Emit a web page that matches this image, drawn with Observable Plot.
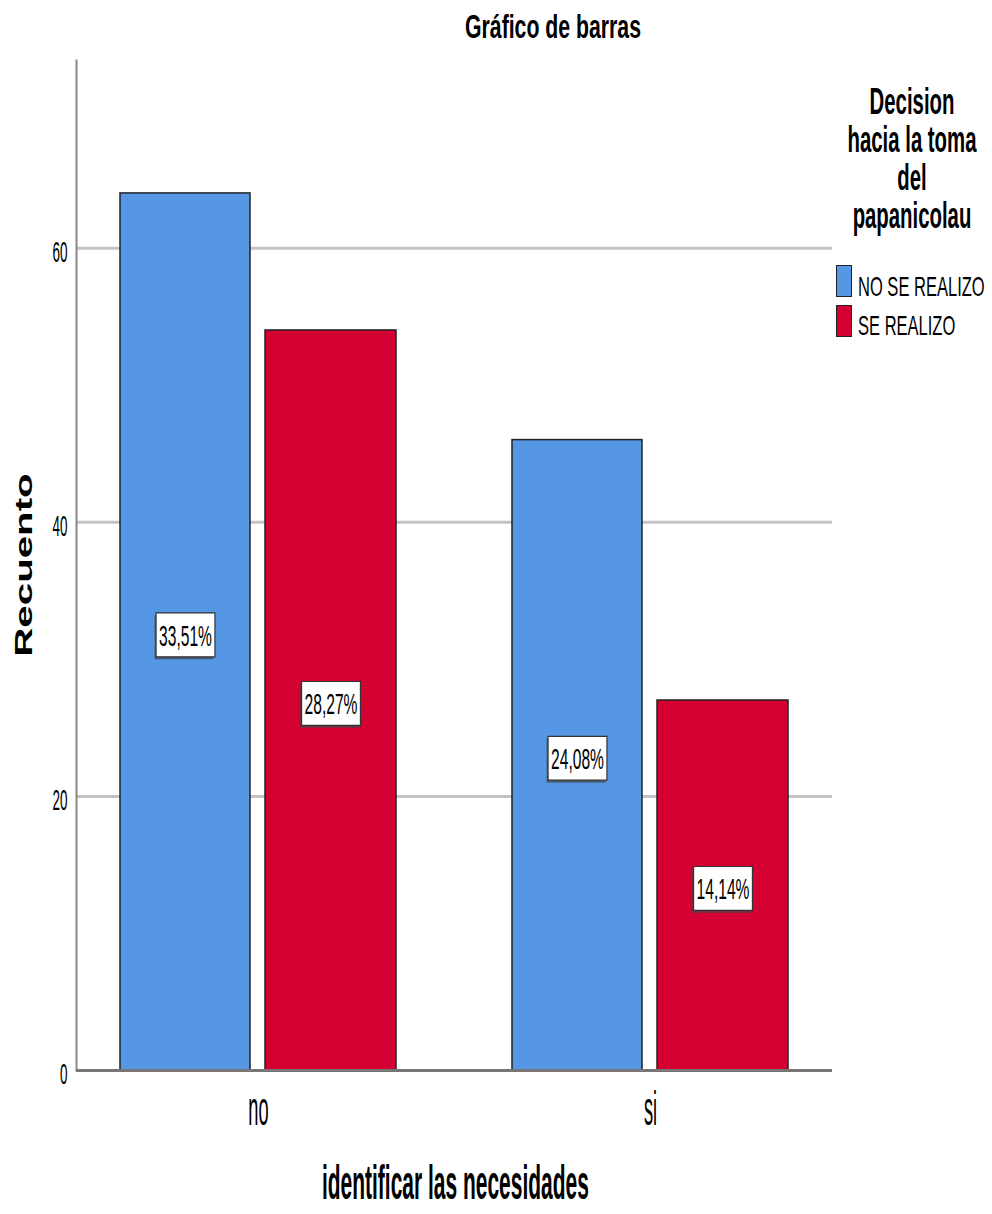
<!DOCTYPE html>
<html>
<head>
<meta charset="utf-8">
<script src="https://cdn.jsdelivr.net/npm/d3@7"></script>
<script src="https://cdn.jsdelivr.net/npm/@observablehq/plot@0.6"></script>
<style>
  body { margin: 0; background: #fff; }
  #wrap { position: relative; width: 992px; height: 1214px; overflow: hidden;
          font-family: "Liberation Sans", Arial, sans-serif; }
  #chart { position: absolute; left: 0; top: 0; }
  .abs { position: absolute; color: #000; white-space: nowrap; line-height: 1; }
  #title { left: 353px; width: 400px; top: 9px; text-align: center; font-weight: bold; font-size: 34px;
           transform: scaleX(0.625); transform-origin: 50% 50%; }
  #xlabel { left: 153px; width: 600px; top: 1159px; text-align: center; font-weight: bold; font-size: 48px;
            transform: scaleX(0.437); transform-origin: 50% 50%; }
  #ylabel { left: 24px; top: 565px; transform: translate(-50%, -50%) rotate(-90deg) scaleX(1.75);
            font-weight: bold; font-size: 23px; }
  #legtitle { left: 762px; width: 300px; top: 83px; text-align: center; font-weight: bold; font-size: 37px; line-height: 38px;
              transform: scaleX(0.55); transform-origin: 50% 50%; }
  .sw { position: absolute; width: 14px; height: 30px; border: 1.5px solid #222; }
  .lt { position: absolute; font-size: 28px; transform: scaleX(0.59); transform-origin: 0 50%; }
</style>
</head>
<body>
<div id="wrap">
  <div id="chart"></div>
  <div id="title" class="abs">Gráfico de barras</div>
  <div id="xlabel" class="abs">identificar las necesidades</div>
  <div id="ylabel" class="abs">Recuento</div>
  <div id="legtitle" class="abs">Decision<br>hacia la toma<br>del<br>papanicolau</div>
  <div id="legend"></div>
</div>
<script>
// ---- data ----
const categories = ["no", "si"];
const series = ["NO SE REALIZO", "SE REALIZO"];
const noSeRealizo = [64, 46];      // counts per category
const seRealizo = [54, 27];
const pctNoSeRealizo = ["33,51%", "24,08%"];
const pctSeRealizo = ["28,27%", "14,14%"];
const colors = ["#5596E5", "#D50032"];
const yTicks = [0, 20, 40, 60];

const table = [];
categories.forEach((c, i) => {
  table.push({cat: c, serie: series[0], value: noSeRealizo[i], pct: pctNoSeRealizo[i]});
  table.push({cat: c, serie: series[1], value: seRealizo[i], pct: pctSeRealizo[i]});
});
const blue = table.filter(d => d.serie === series[0]);
const red = table.filter(d => d.serie === series[1]);

const chart = Plot.plot({
  width: 992,
  height: 1214,
  marginLeft: 76,
  marginRight: 160,
  marginTop: 60,
  marginBottom: 144,
  style: {fontFamily: '"Liberation Sans", Arial, sans-serif', background: "transparent"},
  x: {domain: categories, paddingInner: 0.296, paddingOuter: 0.112, label: null},
  y: {domain: [0, 73.7], label: null},
  color: {domain: series, range: colors},
  marks: [
    Plot.gridY([20, 40, 60], {stroke: "#c4c4c4", strokeOpacity: 1, strokeWidth: 3}),
    Plot.frame({anchor: "left", stroke: "#888", strokeWidth: 2}),
    Plot.barY(blue, {x: "cat", y: "value", fill: "serie", stroke: "#222", strokeWidth: 1.5, insetRight: 146}),
    Plot.barY(red, {x: "cat", y: "value", fill: "serie", stroke: "#222", strokeWidth: 1.5, insetLeft: 145}),
    Plot.ruleY([0], {stroke: "#777", strokeWidth: 3}),
    Plot.text(blue, {x: "cat", y: d => d.value / 2, text: "pct", dx: -73, dy: 4, fontSize: 30, fill: "#000"}),
    Plot.text(red, {x: "cat", y: d => d.value / 2, text: "pct", dx: 72.5, dy: 4, fontSize: 30, fill: "#000"}),
    Plot.axisY(yTicks, {tickSize: 0, tickPadding: 9, fontSize: 30, dy: 4, label: null}),
    Plot.axisX({tickSize: 0, tickPadding: 20, fontSize: 48, label: null})
  ]
});
document.getElementById("chart").appendChild(chart);

// horizontally condensed text (as in the reference)
function squeeze(selector, sx) {
  d3.select(chart).selectAll(selector).each(function() {
    let t = this.getAttribute("transform");
    if (!t) {
      const x = +this.getAttribute("x") || 0, y = +this.getAttribute("y") || 0;
      this.removeAttribute("x"); this.removeAttribute("y");
      t = `translate(${x},${y})`;
    }
    this.setAttribute("transform", t + ` scale(${sx},1)`);
  });
}
squeeze('g[aria-label="y-axis tick label"] text', 0.45);
squeeze('g[aria-label="x-axis tick label"] text', 0.38);
const pctScale = 0.52;
squeeze('g[aria-label="text"] text', pctScale);

// white boxes behind the percentage labels
d3.select(chart).selectAll('g[aria-label="text"] text').each(function() {
  const b = this.getBBox();
  const parent = this.parentNode;
  const padX = 3 / pctScale, padY = 5;
  const tr = this.getAttribute("transform");
  const shadow = document.createElementNS("http://www.w3.org/2000/svg", "rect");
  const box = document.createElementNS("http://www.w3.org/2000/svg", "rect");
  for (const [r, ox, oy, fill] of [[shadow, -1.5 / pctScale, 2.5, "#444"], [box, 0, 0, "#fff"]]) {
    r.setAttribute("x", b.x - padX + ox);
    r.setAttribute("y", b.y - padY + oy);
    r.setAttribute("width", b.width + 2 * padX);
    r.setAttribute("height", b.height + 2 * padY);
    r.setAttribute("fill", fill);
    if (r === box) { r.setAttribute("stroke", "#333"); r.setAttribute("stroke-width", 1.2); r.setAttribute("vector-effect", "non-scaling-stroke"); }
    if (r === shadow) r.setAttribute("opacity", 0.7);
    if (tr) r.setAttribute("transform", tr);
    parent.insertBefore(r, this);
  }
});

// legend
const legend = document.getElementById("legend");
series.forEach((s, i) => {
  const sw = document.createElement("div");
  sw.className = "sw";
  sw.style.left = "836px";
  sw.style.top = (265 + i * 40) + "px";
  sw.style.background = colors[i];
  legend.appendChild(sw);
  const t = document.createElement("div");
  t.className = "lt abs";
  t.style.left = "858px";
  t.style.top = (273 + i * 39) + "px";
  t.textContent = s;
  legend.appendChild(t);
});
</script>
</body>
</html>
